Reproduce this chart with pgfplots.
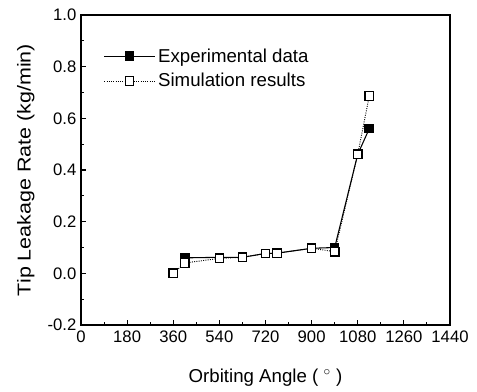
\documentclass[border=0pt]{standalone}
\usepackage{fontspec}
\setmainfont{Liberation Sans}
\usepackage{pgfplots}
\pgfplotsset{compat=1.18}
\begin{document}
\begin{tikzpicture}
\begin{axis}[
  scale only axis,
  width=276.75pt, height=232.5pt,
  xmin=0, xmax=1440, ymin=-0.2, ymax=1.0,
  xtick={0,180,...,1440},
  ytick={-0.2,0,0.2,0.4,0.6,0.8,1.0},
  minor x tick num=1, minor y tick num=1,
  tick align=inside,
  xtick pos=bottom, ytick pos=left,
  major tick length=4pt, minor tick length=2.5pt,
  axis line style={line width=1pt},
  tick style={line width=0.8pt, black},
  /pgf/number format/assume math mode=true,
  /pgf/number format/1000 sep={},
  yticklabel style={/pgf/number format/fixed, /pgf/number format/precision=1, /pgf/number format/fixed zerofill, font=\fontsize{12.5}{14}\selectfont},
  xticklabel style={font=\fontsize{12.5}{14}\selectfont, yshift=-1pt},
  scaled y ticks=false,
  xlabel={Orbiting Angle ( $^{\circ}$ )},
  ylabel={\scalebox{1.15}[1]{Tip Leakage Rate (kg/min)}},
  xlabel style={font=\fontsize{14}{16}\selectfont, yshift=-13pt},
  ylabel style={font=\fontsize{14}{16}\selectfont, yshift=3pt},
  legend style={draw=none, fill=none, at={(0.05,0.91)}, anchor=north west, font=\fontsize{14}{20}\selectfont, row sep=3pt},
  legend cell align=left,
  legend image code/.code={\draw[mark repeat=2,mark phase=2] plot coordinates {(0pt,0pt)(19pt,0pt)(38pt,0pt)};},
]
\addplot[black, line width=0.8pt, mark=square*, mark size=3.2pt, mark options={solid, fill=black}]
  coordinates {(405,0.060)(540,0.062)(630,0.062)(720,0.077)(765,0.078)(900,0.097)(990,0.100)(1080,0.461)(1125,0.560)};
\addlegendentry{Experimental data}
\addplot[black, line width=0.7pt, densely dotted, mark=square*, mark size=3.2pt, mark options={solid, fill=white, line width=0.9pt}]
  coordinates {(360,0.000)(405,0.040)(540,0.058)(630,0.062)(720,0.077)(765,0.078)(900,0.097)(990,0.084)(1080,0.461)(1125,0.687)};
\addlegendentry{Simulation results}
\end{axis}
\path (current axis.south west) ++(-60.75pt,-47.25pt) coordinate (bl);
\path (current axis.north east) ++(20.25pt,11.25pt) coordinate (tr);
\path (bl) rectangle (tr);
\end{tikzpicture}
\end{document}
